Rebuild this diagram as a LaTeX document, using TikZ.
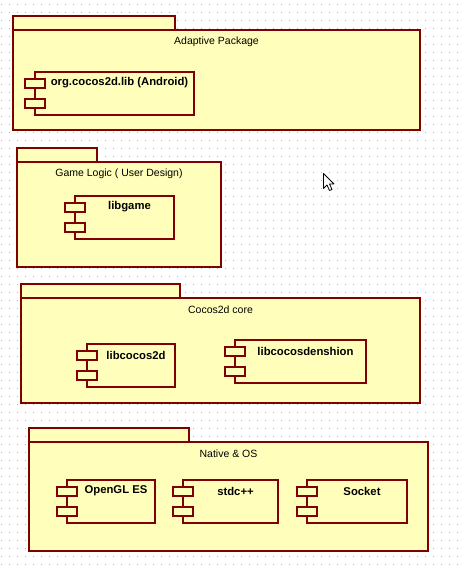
\documentclass[tikz,border=0pt]{standalone}
\usepackage{fontspec}
\setmainfont{Liberation Sans}
\definecolor{pkgfill}{HTML}{FFFFBB}
\definecolor{pkgline}{HTML}{800000}
\definecolor{griddot}{HTML}{B4B4B4}

% package: name, x1, y1, tab end, x2, y2, title
\newcommand\umlpackage[7]{%
  \draw[pkgbox] (#2, #3-14) rectangle (#4, #3) ;
  \draw[pkgbox] (#2, #3) rectangle (#5, #6) ;
  \node[pkgtitle] (#1) at ({(#2+#5)/2}, #3+12) {#7} ;
}
% component: name, x1, y1, x2, text
\newcommand\umlcomponent[5]{%
  \draw[pkgbox] (#2, #3) rectangle (#4, #3+43) ;
  \draw[pkgbox] (#2-10, #3+7) rectangle ++ (20, 9) ;
  \draw[pkgbox] (#2-10, #3+27) rectangle ++ (20, 9) ;
  \node[comptitle] (#1) at ({(#2+10+#4)/2}, #3+11) {#5} ;
}

\begin{document}
\begin{tikzpicture}[x=1pt, y=-1pt,
    pkgbox/.style={draw=pkgline, fill=pkgfill, line width=1.1pt},
    pkgtitle/.style={font=\fontsize{10.5}{12}\selectfont, inner sep=0pt},
    comptitle/.style={font=\bfseries\fontsize{11.3}{13}\selectfont, inner sep=0pt}]
  \useasboundingbox[fill=white] (0, 0) rectangle (463, 570) ;
  % dotted grid
  \foreach \y in {4, 12, ..., 566}
    \draw[griddot, line width=1pt, dash pattern=on 1pt off 7pt] (1, \y+.5) -- (463, \y+.5) ;

  \umlpackage{adaptive}{13}{30}{175}{420}{130}{Adaptive Package}
  \umlcomponent{android}{35}{72}{194}{org.cocos2d.lib (Android)}

  \umlpackage{gamelogic}{17}{162}{97}{221}{267}{Game Logic ( User Design)}
  \umlcomponent{libgame}{75}{196}{174}{libgame}

  \umlpackage{core}{21}{298}{180}{420}{403}{Cocos2d core}
  \umlcomponent{libcocos}{87}{344}{175}{libcocos2d}
  \umlcomponent{denshion}{235}{340}{366}{libcocosdenshion}

  \umlpackage{native}{29}{442}{189}{428}{551}{Native \& OS}
  \umlcomponent{opengl}{67}{480}{155}{OpenGL ES}
  \umlcomponent{stdc}{183}{480}{278}{stdc++}
  \umlcomponent{socket}{307}{480}{407}{Socket}

  % mouse pointer
  \draw[fill=white, line width=.8pt, line join=round, shift={(323.5, 173.5)}]
    (0, 0) -- (0, 15) -- (3.5, 11.5) -- (6, 17) -- (8.5, 16) -- (6, 10.5) -- (10.5, 10.5) -- cycle ;
\end{tikzpicture}
\end{document}
